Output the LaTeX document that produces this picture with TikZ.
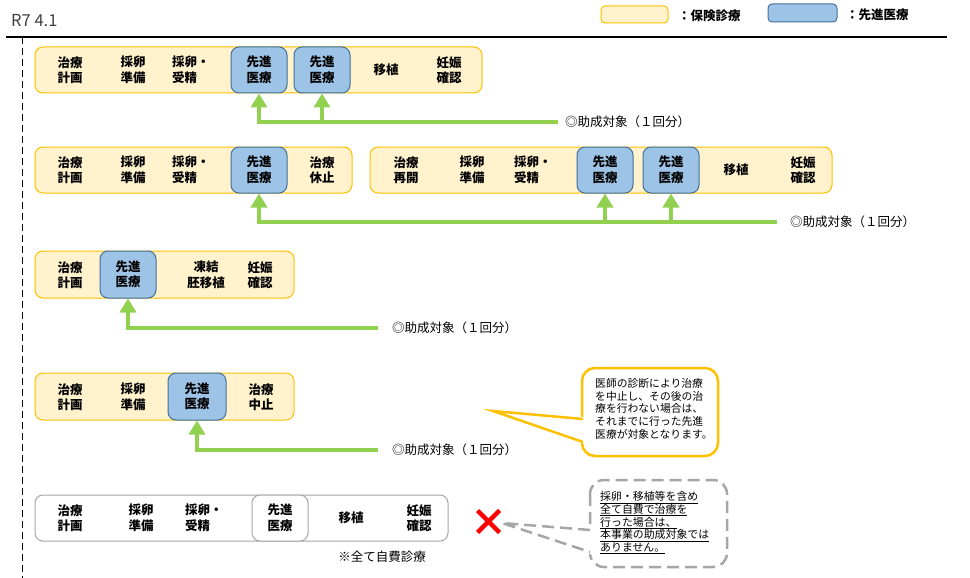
\documentclass[tikz,border=0pt]{standalone}
\usepackage{fontspec}
\setmainfont{Noto Sans CJK JP}
\usetikzlibrary{arrows.meta,positioning}

\definecolor{hokenfill}{HTML}{FFF2CC}
\definecolor{hokenline}{HTML}{FFC000}
\definecolor{senfill}{HTML}{9DC3E6}
\definecolor{senline}{HTML}{41719C}
\definecolor{joseigreen}{HTML}{92D050}
\definecolor{jihigray}{HTML}{A6A6A6}
\definecolor{batsured}{HTML}{FF0000}

\newcommand{\boxfont}{\bfseries\fontsize{12.5}{15.5}\selectfont}

\begin{document}
\begin{tikzpicture}[
    x=1pt, y=-1pt,
    hoken/.style={draw=hokenline, fill=hokenfill, line width=1pt, rounded corners=8pt},
    jihi/.style={draw=jihigray, fill=white, line width=1pt, rounded corners=8pt},
    senshin/.style={draw=senline, fill=senfill, line width=1pt, rounded corners=8pt,
        minimum width=56pt, minimum height=46pt, inner sep=0pt, align=center, font=\boxfont},
    item/.style={align=center, inner sep=0pt, font=\boxfont},
    josei/.style={draw=joseigreen, line width=4pt, -{Triangle[width=16pt,length=14pt]}},
    ann/.style={anchor=west, inner sep=0pt, font=\fontsize{12.5}{15}\selectfont},
    note/.style={anchor=north west, align=left, inner sep=0pt, font=\fontsize{10.8}{12.8}\selectfont}
]
    \useasboundingbox (0,0) rectangle (970,578);

    % Header and legend
    \node[anchor=west, inner sep=0pt, text=black!75, font=\fontsize{16.5}{18}\selectfont] (title) at (11,21) {R7 4.1};
    \draw[line width=1.4pt] (6,37) -- (947,37);
    \draw[line width=0.8pt, dash pattern=on 7pt off 4pt] (22,37) -- (22,578);

    \draw[hoken, rounded corners=4pt] (601,6) rectangle (668,23);
    \node[ann, font=\boxfont] (leg1) at (678,16) {：保険診療};
    \draw[senshin, rounded corners=4pt] (768,4) rectangle (837,22);
    \node[ann, font=\boxfont] (leg2) at (846,15) {：先進医療};

    % Row 1
    \draw[hoken] (35,47) rectangle (482,93);
    \node[item] (r1a) at (70,70) {治療\\計画};
    \node[item] (r1b) at (133,70) {採卵\\準備};
    \node[item, align=left, anchor=west] (r1c) at (172,70) {採卵・\\受精};
    \node[senshin] (sen1a) at (259,70) {先進\\医療};
    \node[senshin] (sen1b) at (322,70) {先進\\医療};
    \node[item] (r1d) at (386,70) {移植};
    \node[item] (r1e) at (449,70) {妊娠\\確認};

    \node[ann] (ann1) at (565,122) {◎助成対象（１回分）};
    \draw[josei] ([xshift=-7pt]ann1.west) -| (sen1a);
    \draw[josei] (sen1b |- ann1.west) -- (sen1b);

    % Row 2
    \draw[hoken] (35,147) rectangle (352,193);
    \node[item] (r2a) at (70,170) {治療\\計画};
    \node[item] (r2b) at (133,170) {採卵\\準備};
    \node[item, align=left, anchor=west] (r2c) at (172,170) {採卵・\\受精};
    \node[senshin] (sen2a) at (259,170) {先進\\医療};
    \node[item] (r2d) at (322,170) {治療\\休止};

    \draw[hoken] (370,147) rectangle (832,193);
    \node[item] (r2e) at (406,170) {治療\\再開};
    \node[item] (r2f) at (472,170) {採卵\\準備};
    \node[item, align=left, anchor=west] (r2g) at (514,170) {採卵・\\受精};
    \node[senshin] (sen2b) at (605,170) {先進\\医療};
    \node[senshin] (sen2c) at (671,170) {先進\\医療};
    \node[item] (r2h) at (736,170) {移植};
    \node[item] (r2i) at (803,170) {妊娠\\確認};

    \node[ann] (ann2) at (790,222) {◎助成対象（１回分）};
    \draw[josei] ([xshift=-13pt]ann2.west) -| (sen2a);
    \draw[josei] (sen2b |- ann2.west) -- (sen2b);
    \draw[josei] (sen2c |- ann2.west) -- (sen2c);

    % Row 3
    \draw[hoken] (35,251) rectangle (294,298);
    \node[item] (r3a) at (70,275) {治療\\計画};
    \node[senshin, minimum height=47pt] (sen3) at (128,274.5) {先進\\医療};
    \node[item] (r3b) at (206,275) {凍結\\胚移植};
    \node[item] (r3c) at (260,275) {妊娠\\確認};

    \node[ann] (ann3) at (392,328) {◎助成対象（１回分）};
    \draw[josei] ([xshift=-14pt]ann3.west) -| (sen3);

    % Row 4
    \draw[hoken] (35,373) rectangle (294,420);
    \node[item] (r4a) at (70,397) {治療\\計画};
    \node[item] (r4b) at (133,397) {採卵\\準備};
    \node[senshin, minimum width=58pt, minimum height=47pt] (sen4) at (197,396.5) {先進\\医療};
    \node[item] (r4c) at (261,397) {治療\\中止};

    \node[ann] (ann4) at (392,450) {◎助成対象（１回分）};
    \draw[josei] ([xshift=-14pt]ann4.west) -| (sen4);

    % Callout for row 4
    \draw[draw=hokenline, fill=white, line width=2.5pt, rounded corners=13pt] (582,368) rectangle (718,456);
    \fill[white] (493,411) -- (585,417) -- (585,444) -- cycle;
    \draw[draw=hokenline, line width=2.5pt, line join=miter] (583,419) -- (493,411) -- (583,442);
    \node[note] (note1) at (595,378) {医師の診断により治療\\を中止し、その後の治\\療を行わない場合は、\\それまでに行った先進\\医療が対象となります。};

    % Row 5
    \draw[jihi] (35,495) rectangle (448,541);
    \node[item] (r5a) at (70,518) {治療\\計画};
    \node[item] (r5b) at (141,518) {採卵\\準備};
    \node[item, align=left, anchor=west] (r5c) at (185,518) {採卵・\\受精};
    \node[jihi, minimum width=56pt, minimum height=46pt, inner sep=0pt, align=center, font=\boxfont] (sen5) at (280,518) {先進\\医療};
    \node[item] (r5d) at (351,518) {移植};
    \node[item] (r5e) at (419,518) {妊娠\\確認};
    \node[ann, anchor=center] (total) at (382,557) {※全て自費診療};

    % Cross and dashed callout
    \coordinate (batsu) at (488.5,521.5);
    \draw[batsured, line width=4.5pt] ([shift={(-11,-11)}]batsu) -- ([shift={(11,11)}]batsu)
        ([shift={(-11,11)}]batsu) -- ([shift={(11,-11)}]batsu);

    \draw[draw=jihigray, fill=white, line width=2.5pt, dash pattern=on 12pt off 6pt, rounded corners=14pt] (590,480) rectangle (727,567);
    \fill[white] (502,523) -- (593,527) -- (593,555) -- cycle;
    \draw[draw=jihigray, line width=2.5pt, dash pattern=on 12pt off 6pt] (590,530) -- (502,523) -- (590,552);
    \node[note, font=\fontsize{10.9}{12.8}\selectfont] (note2) at (600,491) {\underline{採卵・移植等を含め}\\\underline{全て自費で治療を}\\\underline{行った場合は、}\\\underline{本事業の助成対象では}\\\underline{ありません。}};

\end{tikzpicture}
\end{document}
